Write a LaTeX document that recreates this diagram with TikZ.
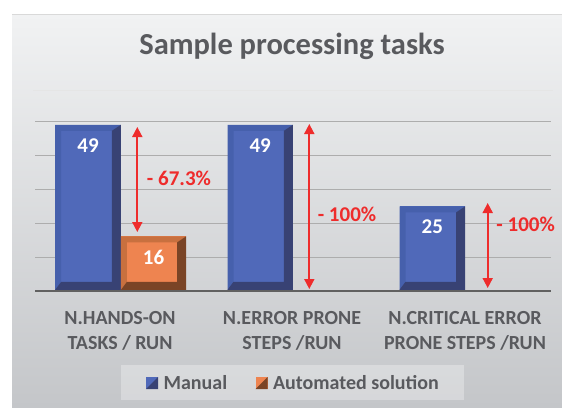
\documentclass[tikz,border=0pt]{standalone}
\usepackage{fontspec}
\setmainfont{Carlito}
\usetikzlibrary{positioning, arrows.meta}

\definecolor{bgtop}{HTML}{F1F2F3}
\definecolor{bgbot}{HTML}{C4C6C9}
\definecolor{barblue}{HTML}{5069B9}
\definecolor{bluelite}{HTML}{4660AC}
\definecolor{bluedark}{HTML}{384274}
\definecolor{barorange}{HTML}{EE8450}
\definecolor{orangelite}{HTML}{C8703F}
\definecolor{orangedark}{HTML}{7A4426}
\definecolor{gapred}{HTML}{EE2C2C}
\definecolor{inkgray}{HTML}{595A5E}

\begin{document}
\begin{tikzpicture}[x=1pt, y=-1pt,
    bar/.style n args={3}{fill=#1, inner sep=0pt, anchor=south west,
      path picture={
        \fill[#2] (path picture bounding box.south west) -- (path picture bounding box.north west)
          -- (path picture bounding box.north east) -- ([shift={(-9pt,-6pt)}]path picture bounding box.north east)
          -- ([shift={(6pt,-6pt)}]path picture bounding box.north west) -- ([shift={(6pt,8pt)}]path picture bounding box.south west) -- cycle;
        \fill[#3] (path picture bounding box.north east) -- (path picture bounding box.south east)
          -- (path picture bounding box.south west) -- ([shift={(6pt,8pt)}]path picture bounding box.south west)
          -- ([shift={(-9pt,8pt)}]path picture bounding box.south east) -- ([shift={(-9pt,-6pt)}]path picture bounding box.north east) -- cycle;
      }},
    key/.style n args={2}{fill=#1, inner sep=0pt, minimum size=12pt,
      path picture={
        \fill[#2] (path picture bounding box.north east) -- (path picture bounding box.south east)
          -- (path picture bounding box.south west) -- cycle;
      }},
    val/.style={text=white, font=\bfseries\fontsize{21}{24}\selectfont},
    cut/.style={text=gapred, font=\bfseries\fontsize{21}{25}\selectfont},
    cat/.style={text=inkgray, align=center, font=\bfseries\fontsize{20}{25.3}\selectfont},
    legtext/.style={text=inkgray, inner sep=0pt, font=\bfseries\fontsize{20}{24}\selectfont},
    grid/.style={draw=black!32, line width=1.1pt},
    gap/.style={draw=gapred, line width=1.8pt, {Triangle[width=10pt,length=10pt]}-{Triangle[width=10pt,length=10pt]}}]

  \useasboundingbox (0,0) rectangle (562,407);
  \fill[top color=bgtop, bottom color=bgbot] (12,14) rectangle (562,407);
  \draw[black!15, line width=0.8pt] (12,14) -- (562,14);

  % title
  \node[text=inkgray, font=\bfseries\fontsize{30.5}{36}\selectfont] (ttl) at (292,46) {Sample processing tasks};
  \draw[black!10, line width=0.6pt] (33,90) -- (553,90);

  % grid
  \foreach \k in {1,...,5}
    \draw[grid] (35,{291-33.9*\k}) -- (551,{291-33.9*\k});

  % bars
  \node[bar={barblue}{bluelite}{bluedark}, minimum width=65.7pt, minimum height=165pt] (m1) at (55,290) {};
  \node[bar={barorange}{orangelite}{orangedark}, minimum width=65.3pt, minimum height=53.5pt] (o1) at (120.7,290) {};
  \node[bar={barblue}{bluelite}{bluedark}, minimum width=65.4pt, minimum height=165pt] (m2) at (227.3,290) {};
  \node[bar={barblue}{bluelite}{bluedark}, minimum width=65.7pt, minimum height=83.5pt] (m3) at (399.3,290) {};

  \node[val] (v1) at ([yshift=-21pt]m1.north) {49};
  \node[val] (v2) at ([yshift=-21pt]o1.north) {16};
  \node[val] (v3) at ([yshift=-21pt]m2.north) {49};
  \node[val] (v4) at ([yshift=-21pt]m3.north) {25};

  \draw[draw=black!62, line width=2.5pt] (35,291) -- (551,291);

  % reductions
  \coordinate (g1t) at (137.3,127);
  \coordinate (g1b) at (137.3,232);
  \coordinate (g2t) at (309.3,124);
  \coordinate (g2b) at (309.3,289);
  \coordinate (g3t) at (487.7,203);
  \coordinate (g3b) at (487.7,288);
  \draw[gap] (g1t) -- (g1b);
  \draw[gap] (g2t) -- (g2b);
  \draw[gap] (g3t) -- (g3b);
  \node[cut] (c1) at (179,178) {- 67.3\%};
  \node[cut] (c2) at (347,214) {- 100\%};
  \node[cut] (c3) at (525.7,224) {- 100\%};

  % categories
  \node[cat] (k1) at (120,331) {N.HANDS-ON\\TASKS / RUN};
  \node[cat] (k2) at (292,331) {N.ERROR PRONE\\STEPS /RUN};
  \node[cat] (k3) at (465,331) {N.CRITICAL ERROR\\PRONE STEPS /RUN};

  % legend
  \node[fill=white, fill opacity=0.3, inner sep=0pt, minimum width=343.6pt, minimum height=35pt] (leg) at (292.5,382.5) {};
  \node[key={barblue}{bluedark}] (kman) at (152.2,383) {};
  \node[legtext, right=5pt of kman] (tman) {Manual};
  \node[key={barorange}{orangedark}, right=28pt of tman] (kauto) {};
  \node[legtext, right=5pt of kauto] (tauto) {Automated solution};
\end{tikzpicture}
\end{document}
